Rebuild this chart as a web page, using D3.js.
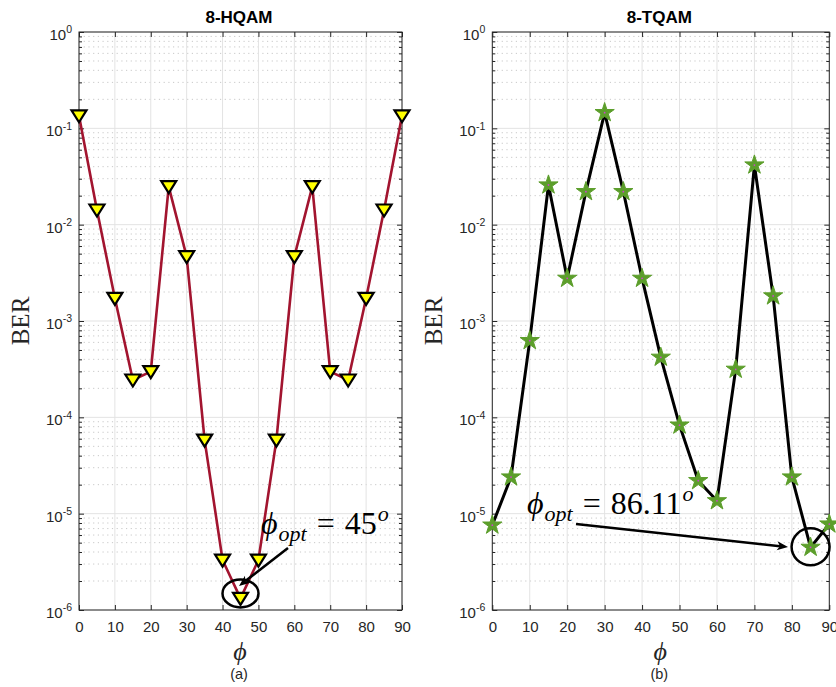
<!DOCTYPE html>
<html><head><meta charset="utf-8">
<script src="https://cdn.jsdelivr.net/npm/d3@7"></script>
<style>
body{margin:0;background:#fff;}
svg{display:block;}
</style></head>
<body>
<svg id="c" width="836" height="687"></svg>
<script>
const phi = [0,5,10,15,20,25,30,35,40,45,50,55,60,65,70,75,80,85,90];
const berHQAM = [0.135,0.0142,0.00172,2.44e-4,2.98e-4,0.0248,0.00465,5.8e-5,3.3e-6,1.32e-6,3.3e-6,5.8e-5,0.00465,0.0248,2.98e-4,2.44e-4,0.00172,0.0142,0.135];
const berTQAM = [7.6e-6,2.4e-5,6.25e-4,0.0258,0.00277,0.022,0.1455,0.022,0.00277,4.2e-4,8.3e-5,2.2e-5,1.36e-5,3.15e-4,0.0416,0.00182,2.4e-5,4.47e-6,7.8e-6];
const xTicks = [0,10,20,30,40,50,60,70,80,90];
const yExp = [0,-1,-2,-3,-4,-5,-6];
const titles = ["8-HQAM","8-TQAM"];
const subLabels = ["(a)","(b)"];
const optLabels = ["45","86.11"];

const svg = d3.select("#c");
const yTop = 32, yBot = 610;
const panels = [
  {L:79, R:402, data:berHQAM, line:"#A2142F", marker:"tri", optIdx:9,
   ell:{dy:-5, rx:18, ry:14}, arrow:{x1:288,y1:548,x2:239,y2:586}, txt:{x:261,y:534}},
  {L:492.3, R:829.3, data:berTQAM, line:"#000", marker:"star", optIdx:17,
   ell:{dy:-0.5, rx:19, ry:18.5}, arrow:{x1:576,y1:524,x2:788,y2:547}, txt:{x:527,y:514}}
];

const sansF = "'Liberation Sans', Arial, Helvetica, sans-serif";
const serifF = "'Liberation Serif', 'DejaVu Serif', serif";
const axisCol = "#262626";

panels.forEach((p, pi) => {
  const x = d3.scaleLinear().domain([0,90]).range([p.L, p.R]);
  const y = d3.scaleLog().domain([1e-6,1]).range([yBot, yTop]);
  const g = svg.append("g");

  const minors = [];
  yExp.forEach(e => { if (e < 0) for (let k=2;k<=9;k++) minors.push(k*Math.pow(10,e)); });
  g.append("g").selectAll("line").data(minors).join("line")
    .attr("x1", p.L).attr("x2", p.R)
    .attr("y1", d=>y(d)).attr("y2", d=>y(d))
    .attr("stroke","#c8c8c8").attr("stroke-width",1).attr("stroke-dasharray","1.2,3.5");
  g.append("g").selectAll("line").data(yExp.map(e=>Math.pow(10,e))).join("line")
    .attr("x1", p.L).attr("x2", p.R)
    .attr("y1", d=>y(d)).attr("y2", d=>y(d))
    .attr("stroke","#e3e3e3").attr("stroke-width",1);
  g.append("g").selectAll("line").data(xTicks).join("line")
    .attr("x1", d=>x(d)).attr("x2", d=>x(d))
    .attr("y1", yTop).attr("y2", yBot)
    .attr("stroke","#e3e3e3").attr("stroke-width",1);

  g.append("rect").attr("x",p.L).attr("y",yTop).attr("width",p.R-p.L).attr("height",yBot-yTop)
    .attr("fill","none").attr("stroke",axisCol).attr("stroke-width",1);

  const decs = yExp.map(e=>Math.pow(10,e));
  const axL = g.append("g").attr("transform",`translate(${p.L},0)`)
    .call(d3.axisLeft(y).tickValues(decs).tickSizeInner(-5).tickSizeOuter(0).tickPadding(9).tickFormat(()=>"10"));
  const axR = g.append("g").attr("transform",`translate(${p.R},0)`)
    .call(d3.axisRight(y).tickValues(decs).tickSizeInner(-5).tickSizeOuter(0).tickFormat(""));
  const axLm = g.append("g").attr("transform",`translate(${p.L},0)`)
    .call(d3.axisLeft(y).tickValues(minors).tickSizeInner(-3).tickSizeOuter(0).tickFormat(""));
  const axRm = g.append("g").attr("transform",`translate(${p.R},0)`)
    .call(d3.axisRight(y).tickValues(minors).tickSizeInner(-3).tickSizeOuter(0).tickFormat(""));
  const axB = g.append("g").attr("transform",`translate(0,${yBot})`)
    .call(d3.axisBottom(x).tickValues(xTicks).tickSizeInner(-5).tickSizeOuter(0).tickPadding(11));
  const axT = g.append("g").attr("transform",`translate(0,${yTop})`)
    .call(d3.axisTop(x).tickValues(xTicks).tickSizeInner(-5).tickSizeOuter(0).tickFormat(""));
  [axL,axR,axLm,axRm,axB,axT].forEach(a=>{
    a.select(".domain").remove();
    a.selectAll(".tick line").attr("stroke",axisCol);
    a.selectAll("text").attr("fill",axisCol).style("font-family",sansF).style("font-size","15px");
  });
  axL.selectAll(".tick text").each(function(d){
    const t = d3.select(this);
    t.attr("dy","0.5em");
    const e = Math.round(Math.log10(d));
    t.append("tspan").text(String(e)).attr("dy","-0.65em").attr("font-size","10.5px");
  });
  axL.selectAll(".tick text").attr("text-anchor","start").each(function(){
    const w = this.getComputedTextLength();
    d3.select(this).attr("x", -7 - w);
  });

  const cx = (p.L+p.R)/2 - 1.5;
  svg.append("text").attr("x",cx).attr("y",23).attr("text-anchor","middle")
    .style("font-family",sansF).style("font-weight","bold").style("font-size","17px").attr("fill","#000")
    .text(titles[pi]);
  svg.append("text").attr("x",cx+1).attr("y",660).attr("text-anchor","middle")
    .style("font-family",serifF).style("font-style","italic").style("font-size","26px").attr("fill",axisCol)
    .text("\u03D5");
  svg.append("text").attr("x",cx).attr("y",679).attr("text-anchor","middle")
    .style("font-family",sansF).style("font-size","14.5px").attr("fill",axisCol)
    .text(subLabels[pi]);
  svg.append("text").attr("transform",`translate(${p.L-50},${(yTop+yBot)/2}) rotate(-90)`)
    .attr("text-anchor","middle")
    .style("font-family",serifF).style("font-size","25px").attr("fill",axisCol)
    .text("BER");

  const pts = phi.map((d,i)=>[d,p.data[i]]);
  g.append("path").datum(pts)
    .attr("d", d3.line().x(d=>x(d[0])).y(d=>y(d[1])))
    .attr("fill","none").attr("stroke",p.line).attr("stroke-width", pi===0?2.6:3).attr("stroke-linejoin","round");

  if (p.marker==="tri") {
    g.append("g").selectAll("path").data(pts).join("path")
      .attr("transform",d=>`translate(${x(d[0])},${y(d[1])})`)
      .attr("d","M-7.5,-5.5L7.5,-5.5L0,6.5Z")
      .attr("fill","#ffff00").attr("stroke","#000").attr("stroke-width",2.2).attr("stroke-linejoin","miter");
  } else {
    const star = d3.symbol().type(d3.symbolStar).size(115);
    const mg = g.append("g").selectAll("g").data(pts).join("g")
      .attr("transform",d=>`translate(${x(d[0])},${y(d[1])})`);
    mg.append("path").attr("d",star()).attr("fill","#5c9e2b").attr("stroke","#5c9e2b").attr("stroke-width",1);
    mg.append("circle").attr("r",0.9).attr("fill","#d040d0");
  }

  const oi = p.optIdx;
  g.append("ellipse").attr("cx",x(phi[oi])).attr("cy",y(p.data[oi])+p.ell.dy)
    .attr("rx",p.ell.rx).attr("ry",p.ell.ry)
    .attr("fill","none").attr("stroke","#000").attr("stroke-width",2.5);
  const a = p.arrow;
  const ang = Math.atan2(a.y2-a.y1, a.x2-a.x1);
  const hl = 11, hw = 4.5;
  const bx = a.x2 - hl*Math.cos(ang), by = a.y2 - hl*Math.sin(ang);
  g.append("line").attr("x1",a.x1).attr("y1",a.y1).attr("x2",bx+3*Math.cos(ang)).attr("y2",by+3*Math.sin(ang))
    .attr("stroke","#000").attr("stroke-width",2.5);
  const px = -Math.sin(ang), py = Math.cos(ang);
  const bx2 = a.x2 - (hl-3)*Math.cos(ang), by2 = a.y2 - (hl-3)*Math.sin(ang);
  g.append("path")
    .attr("d",`M${a.x2},${a.y2}L${bx+hw*px},${by+hw*py}L${bx2},${by2}L${bx-hw*px},${by-hw*py}Z`)
    .attr("fill","#000");
  const t = svg.append("text").attr("x",p.txt.x).attr("y",p.txt.y)
    .style("font-family",serifF).style("font-size","32px").attr("fill","#000");
  t.append("tspan").text("\u03D5").style("font-style","italic");
  t.append("tspan").text("opt").style("font-style","italic").attr("font-size","22px").attr("dy","7").attr("dx","1");
  t.append("tspan").text("=").attr("dy","-7").attr("dx","10");
  t.append("tspan").text(optLabels[pi]).attr("dx","10");
  t.append("tspan").text("o").style("font-style","italic").attr("font-size","22px").attr("dy","-13").attr("dx","1");
});
</script>
</body></html>
